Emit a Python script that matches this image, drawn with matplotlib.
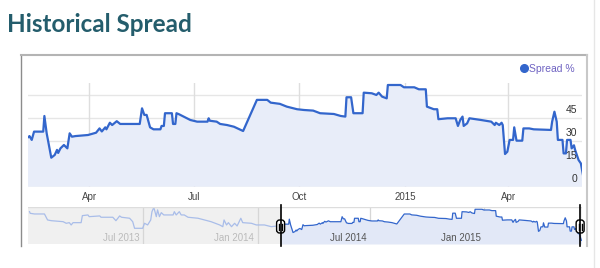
import matplotlib
matplotlib.use("Agg")
import matplotlib.pyplot as plt
import matplotlib.dates as mdates
import matplotlib.transforms as mtransforms
import pandas as pd
from matplotlib.lines import Line2D
from matplotlib.patches import FancyBboxPatch

# spread history (%)
spread_dates = [
    "2012-12-30", "2012-12-31", "2013-01-07", "2013-01-23", "2013-01-28", "2013-02-03",
    "2013-02-22", "2013-02-27", "2013-03-04", "2013-03-07", "2013-03-10", "2013-03-23",
    "2013-03-25", "2013-04-03", "2013-04-05", "2013-04-22", "2013-04-24", "2013-05-13",
    "2013-05-18", "2013-05-24", "2013-05-27", "2013-06-09", "2013-06-14", "2013-06-17",
    "2013-06-30", "2013-07-03", "2013-07-08", "2013-07-13", "2013-07-15", "2013-07-18",
    "2013-07-22", "2013-07-24", "2013-07-27", "2013-07-30", "2013-08-03", "2013-08-18",
    "2013-08-20", "2013-08-23", "2013-08-28", "2013-08-31", "2013-09-05", "2013-09-11",
    "2013-09-27", "2013-10-18", "2013-11-01", "2013-11-06", "2013-11-08", "2013-11-12",
    "2013-11-15", "2013-11-20", "2013-11-25", "2013-11-29", "2013-12-05", "2013-12-08",
    "2013-12-22", "2013-12-30", "2014-01-12", "2014-01-23", "2014-01-31",
    "2014-02-07", "2014-02-08", "2014-02-10", "2014-02-12", "2014-02-20", "2014-02-21",
    "2014-02-23", "2014-02-27", "2014-03-02", "2014-03-04", "2014-03-05", "2014-03-07",
    "2014-03-10", "2014-03-13", "2014-03-15", "2014-03-17", "2014-03-20", "2014-03-31",
    "2014-04-07", "2014-04-10", "2014-04-12", "2014-04-15", "2014-04-16", "2014-04-19",
    "2014-04-21", "2014-04-25", "2014-04-28", "2014-05-15", "2014-05-17", "2014-05-19",
    "2014-05-21", "2014-05-24", "2014-05-27", "2014-06-02", "2014-06-03", "2014-06-05",
    "2014-06-06", "2014-06-12", "2014-06-13", "2014-06-15", "2014-06-16", "2014-06-18",
    "2014-06-25", "2014-06-28", "2014-07-04", "2014-07-13", "2014-07-14", "2014-07-15",
    "2014-07-21", "2014-07-24", "2014-07-30", "2014-08-05", "2014-08-13", "2014-08-25",
    "2014-09-03", "2014-09-06", "2014-09-14", "2014-09-20", "2014-09-29", "2014-10-05",
    "2014-10-13", "2014-10-19", "2014-10-31", "2014-11-06", "2014-11-10", "2014-11-11",
    "2014-11-15", "2014-11-17", "2014-11-25", "2014-11-26", "2014-12-03", "2014-12-07",
    "2014-12-09", "2014-12-12", "2014-12-16", "2014-12-17", "2014-12-28", "2014-12-31",
    "2015-01-09", "2015-01-13", "2015-01-19", "2015-01-20", "2015-01-26", "2015-01-29",
    "2015-01-30", "2015-02-07", "2015-02-14", "2015-02-16", "2015-02-18", "2015-02-20",
    "2015-02-21", "2015-02-24", "2015-02-26", "2015-03-08", "2015-03-17", "2015-03-20",
    "2015-03-21", "2015-03-24", "2015-03-26", "2015-03-27", "2015-03-29", "2015-03-31",
    "2015-04-02", "2015-04-05", "2015-04-06", "2015-04-08", "2015-04-13", "2015-04-14",
    "2015-04-19", "2015-04-23", "2015-05-08", "2015-05-09", "2015-05-11", "2015-05-13",
    "2015-05-14", "2015-05-18", "2015-05-19", "2015-05-21", "2015-05-22", "2015-05-25",
    "2015-05-26", "2015-05-28", "2015-05-29", "2015-06-01", "2015-06-03", "2015-06-06",
]
spread_values = [
    61.4, 58, 56.7, 56.7, 44.5, 43,
    41, 37.7, 39, 34.3, 39, 39,
    53.3, 54.7, 51.2, 52.7, 50, 50,
    43, 52.7, 50, 48, 41, 27.5,
    27.5, 37.7, 34.3, 44.5, 61.4, 70,
    51.2, 65, 51.2, 59.4, 54.7, 54.7,
    61.4, 54.7, 61.4, 54.7, 54.7, 50,
    48, 41, 34.3, 30.8, 44.5, 34.3,
    39, 30.8, 37.7, 32.2, 48, 39,
    37.7, 34.3, 34.3, 30.8, 32,
    32.2, 33, 30.5, 35.9, 35.9, 46.1,
    34.8, 18.9, 20.7, 24, 22, 25,
    27.2, 25, 34.8, 32.6, 33, 33.7,
    35.2, 38, 36, 38.7, 37.4, 41.7,
    40.2, 42.7, 40.9, 40.9, 51.1, 46.8,
    46.8, 38.7, 37.4, 37.4, 39.6, 39.6,
    47.9, 47.9, 40.9, 40.9, 47.9, 47.3,
    44.6, 43.5, 42.4, 42.4, 44.6, 43,
    42.4, 40.9, 40.2, 39.1, 36.3, 56.6,
    56.6, 54.8, 54, 52.2, 50.5, 50,
    49.6, 47.9, 47.4, 46.1, 45.7, 58.3,
    58.3, 47.9, 47.9, 61.3, 60.9, 59.8,
    61.3, 58.7, 57.6, 66.3, 66.3, 64.8,
    64.8, 63.5, 63.5, 52.2, 50.5, 50.5,
    44, 44.6, 44.6, 39.6, 43.5, 45.7,
    39.6, 41.3, 44.6, 43.5, 42.4, 40.2,
    41.7, 40.2, 41.7, 40.2, 21.3, 22.8,
    30.5, 30.5, 38.7, 30, 30, 38,
    38, 37.4, 37, 42.4, 48.9, 42.4,
    30.5, 30.5, 21.7, 21.7, 30.5, 30.5,
    25, 27, 24, 17.4, 15.2, 3,
]

main_ticks = ["2014-04-01", "2014-07-01", "2014-10-01", "2015-01-01", "2015-04-01"]
main_tick_labels = ["Apr", "Jul", "Oct", "2015", "Apr"]
y_ticks = [0, 15, 30, 45]
nav_ticks = ["2013-07-01", "2014-01-01", "2014-07-01", "2015-01-01"]
nav_tick_labels = ["Jul 2013", "Jan 2014", "Jul 2014", "Jan 2015"]

sel_start = pd.Timestamp("2014-02-07")
sel_end = pd.Timestamp("2015-06-04")
nav_start = pd.Timestamp("2012-12-28")
nav_end = pd.Timestamp("2015-06-07")

dates = pd.to_datetime(spread_dates)
s = pd.Series(spread_values, index=dates)

W, H = 600, 268
BLUE = "#3366cc"


def fx(x):
    return x / W


def fy(y):
    return 1 - y / H


fig = plt.figure(figsize=(6, 2.68), dpi=100)
fig.patch.set_facecolor("white")

fig.text(fx(7), fy(25), "Historical Spread", fontsize=17.5, color="#245d6c",
         family="Lato", weight="bold", va="center", ha="left")

# outer frame of the chart box
fig.add_artist(Line2D([fx(21), fx(21)], [fy(55), fy(246)], color="#8c8c8c", lw=1))
fig.add_artist(Line2D([fx(21), fx(587)], [fy(55), fy(55)], color="#b4b4b4", lw=1.5))
fig.add_artist(Line2D([fx(587), fx(587)], [fy(55), fy(246)], color="#c8c8c8", lw=1.5))
fig.add_artist(Line2D([fx(594), fx(594)], [fy(0), fy(268)], color="#e6e6e6", lw=1))

# main plot
ax = fig.add_axes([fx(28.3), fy(186.7), (582 - 28.3) / W, (186.7 - 83) / H])
for v in [15, 30, 45, 60]:
    ax.axhline(v, color="#e6e6e6", lw=1, zorder=0)
ax.axhline(0, color="#cccccc", lw=1, zorder=0)
for d in main_ticks:
    ax.axvline(pd.Timestamp(d), color="#dedede", lw=1, zorder=0)
ax.fill_between(s.index, s.values, 0, color="#e8edf9", lw=0, zorder=1)
ax.plot(s.index, s.values, color=BLUE, lw=1.6, zorder=2, label="Spread %")
ax.set_xlim(sel_start, sel_end)
ax.set_ylim(0, 67.6)
for sp in ax.spines.values():
    sp.set_visible(False)
ax.set_yticks([])
ax.set_xticks(pd.to_datetime(main_ticks))
ax.set_xticklabels(main_tick_labels)
ax.tick_params(axis="x", length=0, pad=4, labelsize=7, labelcolor="#444444")
for t in ax.get_xticklabels():
    t.set_family("Liberation Sans")
for v in y_ticks:
    ax.annotate(str(v), xy=(0.991, v), xycoords=("axes fraction", "data"),
                xytext=(0, 5.6), textcoords="offset points", ha="right", va="center",
                fontsize=7.5, color="#333333", family="Liberation Sans")

leg = ax.legend(handles=[Line2D([], [], marker="o", ls="", color=BLUE, ms=5.5)],
                labels=["Spread %"], loc="center right", frameon=False,
                bbox_to_anchor=(fx(575), fy(68.5)), bbox_transform=fig.transFigure,
                handlelength=0.6, handletextpad=0.25, borderpad=0, borderaxespad=0,
                prop={"family": "Liberation Sans", "size": 7.5}, labelcolor="#6f63c2")

# range navigator
ax2 = fig.add_axes([fx(28.3), fy(244), (582 - 28.3) / W, (244 - 206.7) / H])
ax2.set_xlim(nav_start, nav_end)
ax2.set_ylim(-4.5, 71.5)
ax2.axvspan(nav_start, sel_start, color="#f0f0f0", lw=0, zorder=0)
ax2.axvspan(sel_end, nav_end, color="#f0f0f0", lw=0, zorder=0)
for d in nav_ticks:
    ax2.axvline(pd.Timestamp(d), color="#d6d6d6", lw=0.9, zorder=1)
old = s[s.index <= sel_start]
new = s[s.index >= sel_start]
ax2.plot(old.index, old.values, color="#a9bde9", lw=0.9, zorder=2)
ax2.fill_between(new.index, new.values, -4.5, color="#e2e8f7", lw=0, zorder=1)
ax2.plot(new.index, new.values, color=BLUE, lw=0.9, zorder=2)
for sp in ax2.spines.values():
    sp.set_visible(False)
ax2.axhline(71.5, color="#dddddd", lw=1)
ax2.set_xticks([])
ax2.set_yticks([])
for d, lab in zip(nav_ticks, nav_tick_labels):
    ts = pd.Timestamp(d)
    col = "#bbbbbb" if ts < sel_start else "#555555"
    ax2.annotate(lab, xy=(ts, 0.17), xycoords=("data", "axes fraction"),
                 xytext=(-2.5, 0), textcoords="offset points", ha="right", va="center",
                 fontsize=7, color=col, family="Liberation Sans")

# selection handles (pixel coordinates)
ident = mtransforms.IdentityTransform()
for ts in [sel_start, sel_end]:
    xp = ax2.transData.transform((mdates.date2num(ts), 0))[0]
    fig.add_artist(Line2D([xp, xp], [H - 205, H - 246], color="black", lw=1.2,
                          transform=ident))
    fig.add_artist(FancyBboxPatch((xp - 4, H - 233), 8, 13,
                                  boxstyle="round,pad=0,rounding_size=3",
                                  fc="white", ec="black", lw=1, transform=ident))
    for dx in (-1.5, 1.5):
        fig.add_artist(Line2D([xp + dx, xp + dx], [H - 223.5, H - 229.5],
                              color="black", lw=1, transform=ident))

fig.savefig("out.png", dpi=100, facecolor="white")
